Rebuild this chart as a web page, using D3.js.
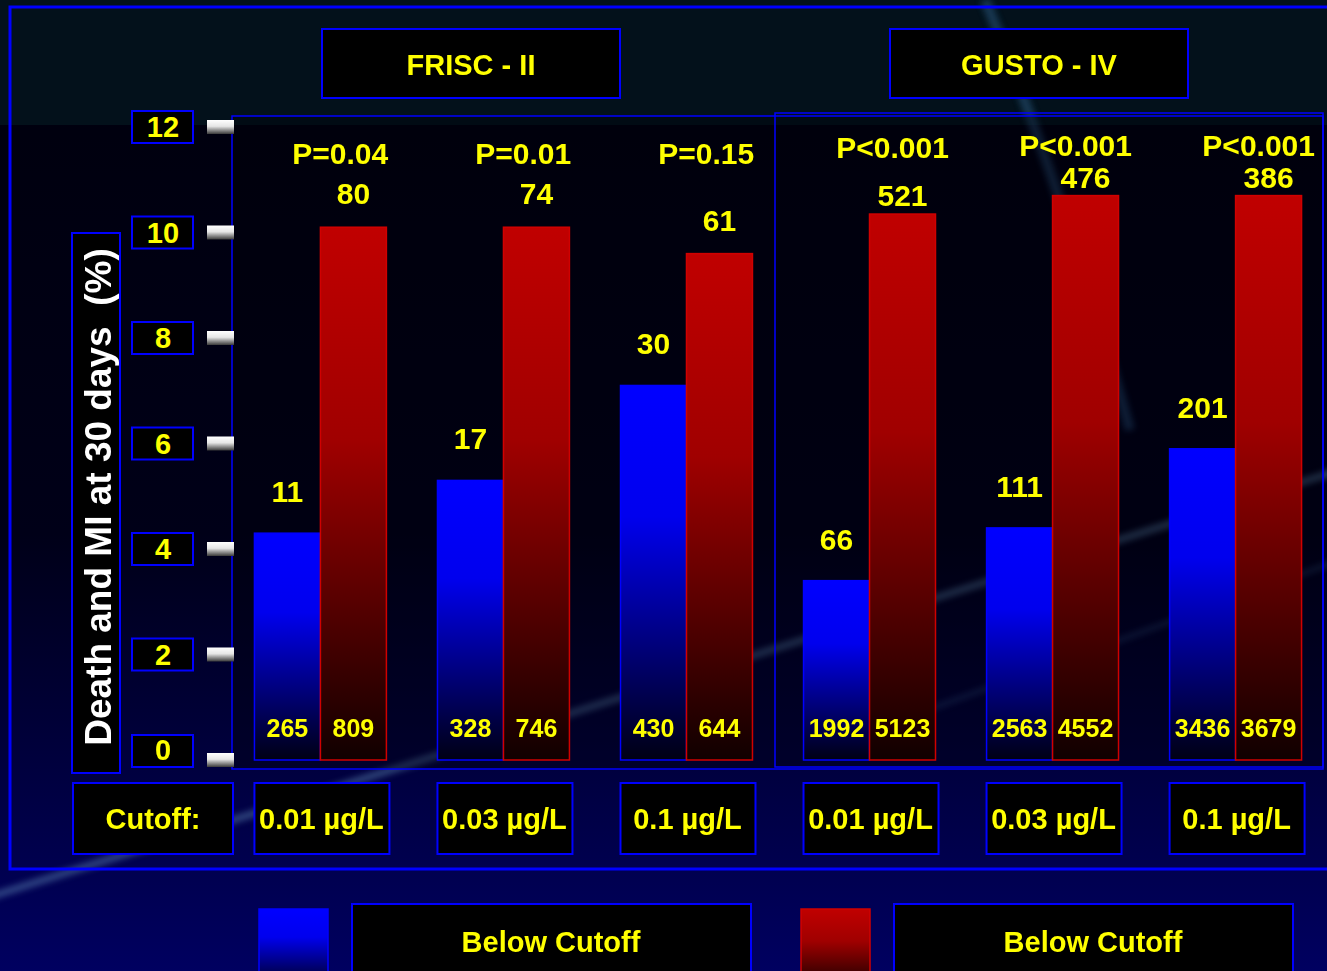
<!DOCTYPE html>
<meta charset="utf-8">
<head>
    <title>Death and MI at 30 days by troponin cutoff</title>
    <script src="https://cdn.jsdelivr.net/npm/d3@7"></script>
    <style>
        body {
            margin: 0;
            background-color: #00000c;
        }

        svg text {
            font-family: "Liberation Sans", Arial, sans-serif;
            font-weight: bold;
        }
    </style>
</head>

<body>
    <svg id="svg"></svg>

    <script>
        // chart data
        const studies = ["FRISC - II", "GUSTO - IV"]
        const cutoffs = ["0.01 µg/L", "0.03 µg/L", "0.1 µg/L", "0.01 µg/L", "0.03 µg/L", "0.1 µg/L"]
        const groupStudy = [0, 0, 0, 1, 1, 1]
        const belowPct = [4.3, 5.3, 7.1, 3.4, 4.4, 5.9]
        const abovePct = [10.1, 10.1, 9.6, 10.35, 10.7, 10.7]
        const belowEvents = [11, 17, 30, 66, 111, 201]
        const aboveEvents = [80, 74, 61, 521, 476, 386]
        const belowN = [265, 328, 430, 1992, 2563, 3436]
        const aboveN = [809, 746, 644, 5123, 4552, 3679]
        const pValues = ["P=0.04", "P=0.01", "P=0.15", "P<0.001", "P<0.001", "P<0.001"]
        const yTicks = [0, 2, 4, 6, 8, 10, 12]
        const legendLabels = ["Below Cutoff", "Below Cutoff"]
        const yTitle = "Death and MI at 30 days  (%)"

        const width = 1327
        const height = 971
        const yellow = "#ffff00"
        const blue = "#0000ff"

        let svg = d3.select('#svg')
            .attr('width', width)
            .attr('height', height)

        let defs = svg.append('defs')

        let bg = defs.append('linearGradient').attr('id', 'bg').attr('x1', 0).attr('y1', 0).attr('x2', 0).attr('y2', 1)
        bg.append('stop').attr('offset', 0).attr('stop-color', '#00000c')
        bg.append('stop').attr('offset', 0.55).attr('stop-color', '#000018')
        bg.append('stop').attr('offset', 1).attr('stop-color', '#000060')

        let blueGrad = defs.append('linearGradient').attr('id', 'blueGrad').attr('x1', 0).attr('y1', 0).attr('x2', 0).attr('y2', 1)
        blueGrad.append('stop').attr('offset', 0).attr('stop-color', '#0000ff')
        blueGrad.append('stop').attr('offset', 0.35).attr('stop-color', '#0000ee')
        blueGrad.append('stop').attr('offset', 1).attr('stop-color', '#000014')

        let redGrad = defs.append('linearGradient').attr('id', 'redGrad').attr('x1', 0).attr('y1', 0).attr('x2', 0).attr('y2', 1)
        redGrad.append('stop').attr('offset', 0).attr('stop-color', '#c00000')
        redGrad.append('stop').attr('offset', 0.4).attr('stop-color', '#a00000')
        redGrad.append('stop').attr('offset', 1).attr('stop-color', '#100000')

        let tickGrad = defs.append('linearGradient').attr('id', 'tickGrad').attr('x1', 0).attr('y1', 0).attr('x2', 0).attr('y2', 1)
        tickGrad.append('stop').attr('offset', 0).attr('stop-color', '#ffffff')
        tickGrad.append('stop').attr('offset', 0.45).attr('stop-color', '#e6e6e6')
        tickGrad.append('stop').attr('offset', 1).attr('stop-color', '#3a3a3a')

        defs.append('filter').attr('id', 'blur')
            .attr('x', '-20%').attr('y', '-20%').attr('width', '140%').attr('height', '140%')
            .append('feGaussianBlur').attr('stdDeviation', 3)

        // background
        svg.append('rect').attr('width', width).attr('height', height).attr('fill', 'url(#bg)')
        svg.append('rect').attr('width', width).attr('height', 125).attr('fill', '#03111b')

        // faint glow of the planet edge behind the chart
        let glow = svg.append('g').attr('filter', 'url(#blur)').attr('fill', 'none')
        glow.append('path')
            .attr('d', 'M -20 900 Q 620 700 1340 470')
            .attr('stroke', '#6a9cc4').attr('stroke-width', 7).attr('opacity', 0.45)
        glow.append('path')
            .attr('d', 'M 900 720 Q 1120 640 1340 560')
            .attr('stroke', '#4a78a8').attr('stroke-width', 5).attr('opacity', 0.3)
        glow.append('path')
            .attr('d', 'M 985 0 Q 1060 180 1130 430')
            .attr('stroke', '#3f7fb8').attr('stroke-width', 10).attr('opacity', 0.35)

        // slide frame
        svg.append('rect')
            .attr('x', 10).attr('y', 7).attr('width', 1340).attr('height', 862)
            .attr('fill', 'none').attr('stroke', blue).attr('stroke-width', 3)

        // scales
        let x = d3.scaleBand()
            .domain(d3.range(cutoffs.length))
            .range([229, 1327])
            .paddingInner(0.279)
            .paddingOuter(0.139)
        let y = d3.scaleLinear().domain([0, 12]).range([760, 127])
        let barW = x.bandwidth() / 2

        // plot frames
        svg.append('rect')
            .attr('x', 232).attr('y', 116).attr('width', 1091).attr('height', 653)
            .attr('fill', '#000008').attr('fill-opacity', 0.35)
            .attr('stroke', blue).attr('stroke-width', 1.5)
        svg.append('rect')
            .attr('x', 775).attr('y', 113).attr('width', 548).attr('height', 654)
            .attr('fill', 'none').attr('stroke', blue).attr('stroke-width', 1.5)

        // study title boxes
        const titleX = [322, 890]
        studies.forEach((s, i) => {
            svg.append('rect')
                .attr('x', titleX[i]).attr('y', 29).attr('width', 298).attr('height', 69)
                .attr('fill', 'black').attr('stroke', blue).attr('stroke-width', 2)
            svg.append('text')
                .attr('x', titleX[i] + 149).attr('y', 75)
                .attr('text-anchor', 'middle').attr('fill', yellow).attr('font-size', 29)
                .text(s)
        })

        // y axis title
        svg.append('rect')
            .attr('x', 72).attr('y', 233).attr('width', 48).attr('height', 540)
            .attr('fill', 'black').attr('stroke', blue).attr('stroke-width', 2)
        svg.append('text')
            .attr('transform', 'translate(111,497) rotate(-90)')
            .attr('text-anchor', 'middle').attr('fill', 'white').attr('font-size', 37)
            .style('white-space', 'pre')
            .text(yTitle)

        // y ticks
        let ticks = svg.append('g').selectAll('g').data(yTicks).enter().append('g')
            .attr('transform', d => 'translate(0,' + y(d) + ')')
        ticks.append('rect')
            .attr('x', 132).attr('y', d => d === 0 ? -25 : -16).attr('width', 61).attr('height', 32)
            .attr('fill', 'black').attr('stroke', blue).attr('stroke-width', 2)
        ticks.append('text')
            .attr('x', 163).attr('y', d => d === 0 ? 0 : 10)
            .attr('text-anchor', 'middle').attr('fill', yellow).attr('font-size', 29)
            .text(d => d)
        ticks.append('rect')
            .attr('x', 207).attr('y', -7).attr('width', 27).attr('height', 14)
            .attr('fill', 'url(#tickGrad)')

        // bars
        let groups = svg.append('g').selectAll('g').data(cutoffs).enter().append('g')
            .attr('transform', (d, i) => 'translate(' + x(i) + ',0)')

        groups.append('rect')
            .attr('x', 0).attr('y', (d, i) => y(belowPct[i]))
            .attr('width', barW).attr('height', (d, i) => y(0) - y(belowPct[i]))
            .attr('fill', 'url(#blueGrad)').attr('stroke', blue).attr('stroke-width', 1.5)
        groups.append('rect')
            .attr('x', barW).attr('y', (d, i) => y(abovePct[i]))
            .attr('width', barW).attr('height', (d, i) => y(0) - y(abovePct[i]))
            .attr('fill', 'url(#redGrad)').attr('stroke', '#d00000').attr('stroke-width', 1.5)

        // event counts above bars
        let redLabelY = i => y(abovePct[i]) - (groupStudy[i] === 0 ? 23 : 8)
        groups.append('text')
            .attr('x', barW / 2).attr('y', (d, i) => y(belowPct[i]) - 31)
            .attr('text-anchor', 'middle').attr('fill', yellow).attr('font-size', 30)
            .text((d, i) => belowEvents[i])
        groups.append('text')
            .attr('x', barW * 1.5).attr('y', (d, i) => redLabelY(i))
            .attr('text-anchor', 'middle').attr('fill', yellow).attr('font-size', 30)
            .text((d, i) => aboveEvents[i])

        // p values
        groups.append('text')
            .attr('x', (d, i) => barW * (groupStudy[i] === 0 ? 1.3 : 1.35))
            .attr('y', (d, i) => groupStudy[i] === 0 ? 164 : Math.min(158, redLabelY(i) - 32))
            .attr('text-anchor', 'middle').attr('fill', yellow).attr('font-size', 30)
            .text((d, i) => pValues[i])

        // patient numbers inside bars
        groups.append('text')
            .attr('x', barW / 2).attr('y', 737)
            .attr('text-anchor', 'middle').attr('fill', yellow).attr('font-size', 25)
            .text((d, i) => belowN[i])
        groups.append('text')
            .attr('x', barW * 1.5).attr('y', 737)
            .attr('text-anchor', 'middle').attr('fill', yellow).attr('font-size', 25)
            .text((d, i) => aboveN[i])

        // cutoff row
        svg.append('rect')
            .attr('x', 73).attr('y', 783).attr('width', 160).attr('height', 71)
            .attr('fill', 'black').attr('stroke', blue).attr('stroke-width', 2)
        svg.append('text')
            .attr('x', 153).attr('y', 829)
            .attr('text-anchor', 'middle').attr('fill', yellow).attr('font-size', 29)
            .text('Cutoff:')

        groups.append('rect')
            .attr('x', x.bandwidth() / 2 - 66).attr('y', 783).attr('width', 135).attr('height', 71)
            .attr('fill', 'black').attr('stroke', blue).attr('stroke-width', 2)
        groups.append('text')
            .attr('x', x.bandwidth() / 2 + 1).attr('y', 829)
            .attr('text-anchor', 'middle').attr('fill', yellow).attr('font-size', 29)
            .text(d => d)

        // legend
        const legendFill = ['url(#blueGrad)', 'url(#redGrad)']
        const legendStroke = [blue, '#d00000']
        const legendX = [259, 801]
        legendLabels.forEach((label, i) => {
            svg.append('rect')
                .attr('x', legendX[i]).attr('y', 909).attr('width', 69).attr('height', 80)
                .attr('fill', legendFill[i]).attr('stroke', legendStroke[i]).attr('stroke-width', 1.5)
            svg.append('rect')
                .attr('x', legendX[i] + 93).attr('y', 904).attr('width', 399).attr('height', 90)
                .attr('fill', 'black').attr('stroke', blue).attr('stroke-width', 2)
            svg.append('text')
                .attr('x', legendX[i] + 292).attr('y', 952)
                .attr('text-anchor', 'middle').attr('fill', yellow).attr('font-size', 29)
                .text(label)
        })
    </script>
</body>
</html>
